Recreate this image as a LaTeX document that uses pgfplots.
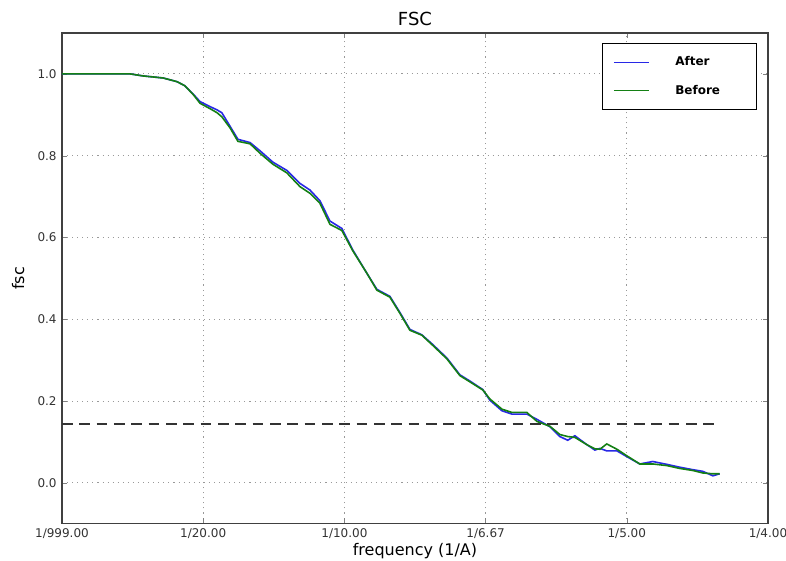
\documentclass[border=0pt]{standalone}
\usepackage{pgfplots}
\pgfplotsset{compat=1.18}
\usepackage{fontspec}
\setmainfont{DejaVu Sans}
\definecolor{mplblue}{RGB}{40,40,230}
\definecolor{mplgreen}{RGB}{20,128,20}
\begin{document}
\begin{tikzpicture}
\begin{axis}[
  scale only axis,
  width=529.5pt, height=368pt,
  xmin=0, xmax=0.25, ymin=-0.1, ymax=1.1,
  xtick={0,0.05,0.1,0.15,0.2,0.25},
  xticklabels={1/999.00,1/20.00,1/10.00,1/6.67,1/5.00,1/4.00},
  ytick={0,0.2,0.4,0.6,0.8,1.0},
  yticklabel style={xshift=-0.5pt, /pgf/number format/.cd, fixed, fixed zerofill, precision=1},
  /pgf/number format/assume math mode=true,
  tick label style={font=\fontsize{9}{10}\selectfont, text=black!80},
  tick align=inside,
  major tick length=4pt,
  grid=major,
  major grid style={dash pattern=on 0.8pt off 3pt, gray!80, line width=0.7pt},
  axis line style={black!75, line width=0.9pt},
  title={FSC},
  title style={font=\fontsize{13.5}{15}\selectfont, yshift=-4pt},
  xlabel={frequency (1/A)},
  ylabel={fsc},
  label style={font=\fontsize{12}{14}\selectfont},
  xlabel style={yshift=3.5pt},
  ylabel style={yshift=3pt},
  legend style={at={(0.984,0.98)}, anchor=north east, draw=black, line width=0.9pt,
    font=\fontsize{9}{10}\selectfont\bfseries, row sep=9pt, inner ysep=8pt, inner xsep=8pt},
  legend cell align=left,
  legend image code/.code={\draw[#1, line width=1.1pt] (0cm,0cm) -- (0.93cm,0cm);},
  legend style={nodes={inner xsep=19pt}},
]
\addplot[mplblue, line width=1.2pt] coordinates {
(0,1.0) (0.0241,1.0) (0.0287,0.995) (0.0358,0.99) (0.0407,0.981) (0.0435,0.971)
(0.0464,0.951) (0.0489,0.932) (0.0524,0.92) (0.0549,0.912) (0.0566,0.905) (0.0595,0.872)
(0.0623,0.840) (0.0666,0.832) (0.0701,0.812) (0.0747,0.784) (0.0796,0.764) (0.0843,0.732)
(0.0878,0.716) (0.0913,0.690) (0.0949,0.640) (0.0991,0.622) (0.1030,0.569) (0.1080,0.512)
(0.1115,0.473) (0.1161,0.456) (0.1197,0.416) (0.1232,0.375) (0.1274,0.362) (0.1313,0.338)
(0.1363,0.305) (0.1409,0.264) (0.1444,0.249) (0.1490,0.228) (0.1515,0.202) (0.1558,0.176)
(0.1593,0.168) (0.1646,0.168) (0.1682,0.155) (0.1728,0.137) (0.1763,0.113) (0.1791,0.104)
(0.1816,0.115) (0.1859,0.093) (0.1887,0.080) (0.1905,0.084) (0.1929,0.078) (0.1965,0.078)
(0.2000,0.064) (0.2046,0.046) (0.2092,0.052) (0.2142,0.045) (0.2188,0.038) (0.2234,0.032)
(0.2269,0.028) (0.2305,0.017) (0.2329,0.022)
};
\addlegendentry{After}
\addplot[mplgreen, line width=1.2pt] coordinates {
(0,1.0) (0.0241,1.0) (0.0287,0.995) (0.0358,0.99) (0.0407,0.981) (0.0435,0.971)
(0.0464,0.950) (0.0489,0.928) (0.0524,0.915) (0.0549,0.905) (0.0566,0.895) (0.0595,0.868)
(0.0623,0.835) (0.0666,0.829) (0.0701,0.806) (0.0747,0.779) (0.0796,0.758) (0.0843,0.724)
(0.0878,0.708) (0.0913,0.684) (0.0949,0.632) (0.0991,0.617) (0.1030,0.567) (0.1080,0.512)
(0.1115,0.471) (0.1161,0.454) (0.1197,0.414) (0.1232,0.373) (0.1274,0.361) (0.1313,0.336)
(0.1363,0.303) (0.1409,0.262) (0.1444,0.247) (0.1490,0.227) (0.1515,0.205) (0.1558,0.180)
(0.1593,0.172) (0.1646,0.172) (0.1682,0.150) (0.1728,0.138) (0.1763,0.118) (0.1791,0.113)
(0.1816,0.111) (0.1859,0.093) (0.1887,0.083) (0.1905,0.082) (0.1929,0.095) (0.1965,0.082)
(0.2000,0.066) (0.2046,0.046) (0.2092,0.046) (0.2142,0.042) (0.2188,0.035) (0.2234,0.030)
(0.2269,0.024) (0.2305,0.022) (0.2329,0.022)
};
\addlegendentry{Before}
\addplot[black!80, line width=1.6pt, dash pattern=on 8pt off 5pt, forget plot] coordinates {
(0,0.143) (0.2318,0.143)
};
\end{axis}
\pgfresetboundingbox
\path ([xshift=-46.5pt, yshift=-27.75pt]current axis.south west) rectangle ([xshift=13.5pt, yshift=24.75pt]current axis.north east);
\end{tikzpicture}
\end{document}
